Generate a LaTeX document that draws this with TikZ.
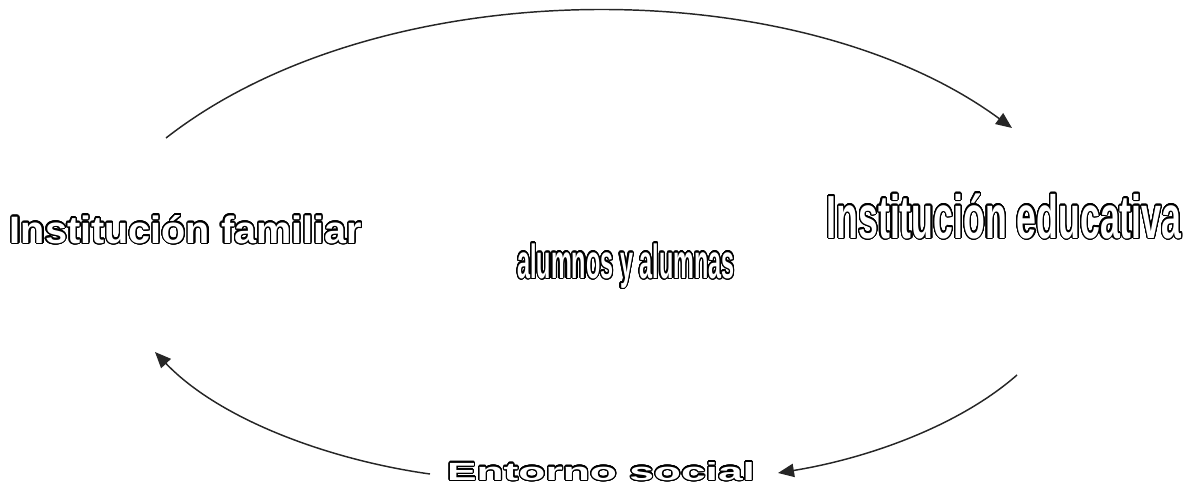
\documentclass[tikz,border=0pt]{standalone}
\usepackage{fontspec}
\setmainfont{Liberation Sans}
\usepackage{graphicx}
\usepackage{contour}
\contourlength{0.9pt}
\contournumber{32}
\usetikzlibrary{arrows.meta}
\newcommand{\hollow}[3]{{\color{white}\contour{black}{\resizebox{#1}{#2}{\bfseries #3}}}}

\begin{document}
\begin{tikzpicture}[x=0.75pt,y=-0.75pt]
      \tikzstyle{titulo}=[inner sep=0pt,anchor=base]
      \tikzstyle{flecha}=[draw=black!85,line width=1.1pt,-{Triangle[length=12pt,width=10pt]}]
      \useasboundingbox (0,0) rectangle (1196,486);
      \node[titulo] at (186,243) (fam) {\hollow{264pt}{21pt}{Institución familiar}};
      \node[titulo] at (1004,238) (edu) {\hollow{266pt}{33.5pt}{Institución educativa}};
      \node[titulo] at (626,278) (alu) {\hollow{163pt}{26pt}{alumnos y alumnas}};
      \node[titulo] at (601,480) (ent) {\hollow{231pt}{13.5pt}{Entorno social}};
      \coordinate (f1) at (166,138);
      \coordinate (e1) at (1012,128);
      \coordinate (e2) at (1017,375);
      \coordinate (s1) at (778,473);
      \coordinate (s2) at (430,474);
      \coordinate (f2) at (155,352);
      \draw[flecha] (f1) .. controls (381,-30) and (797,-30) .. (e1);
      \draw[flecha] (e2) .. controls (960,425) and (870,458) .. (s1);
      \draw[flecha] (s2) .. controls (330,460) and (220,420) .. (f2);
    \end{tikzpicture}
\end{document}
